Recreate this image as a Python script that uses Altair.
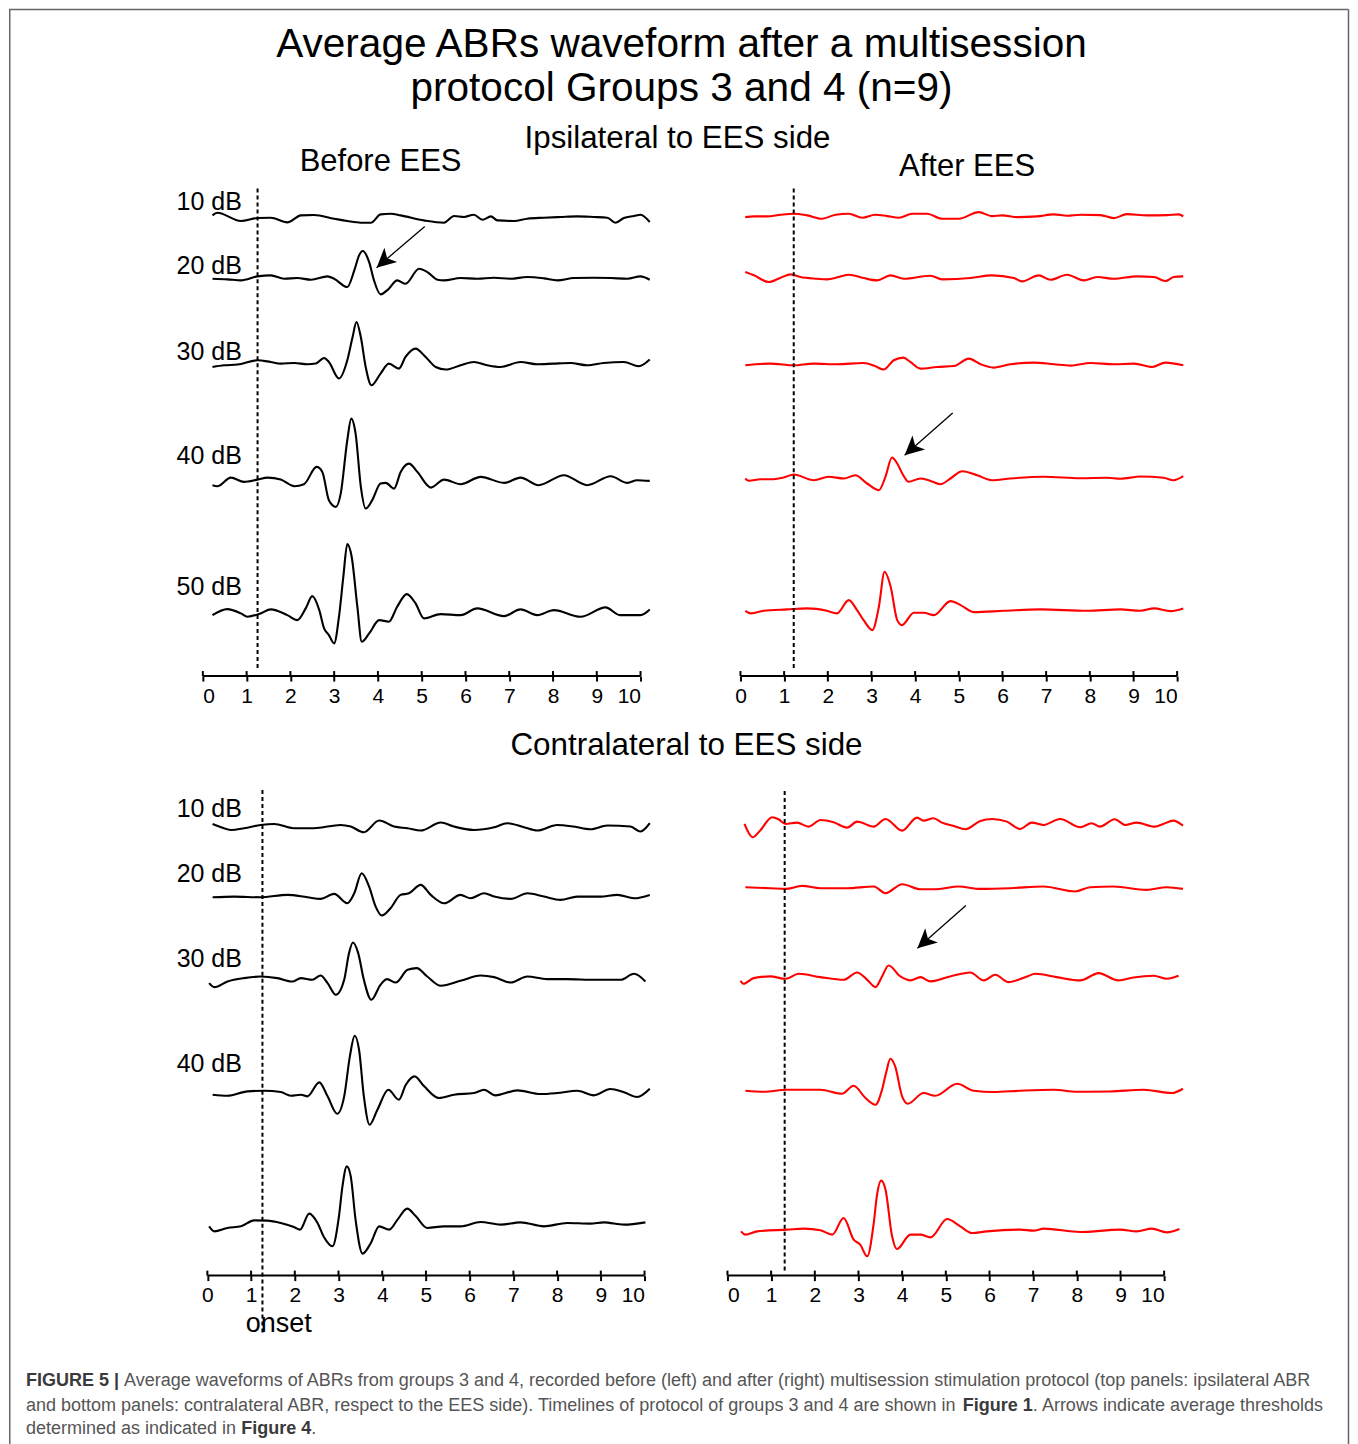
import altair as alt
import pandas as pd

FONT = "Liberation Sans"

# ---------------- waveform data (time in ms, amplitude in a.u.) ----------------
# Ipsilateral, before EES (black)
TL10_T = [0.22,0.33,0.87,1.25,1.55,1.93,2.24,2.54,3.0,3.30,3.61,3.84,4.06,4.29,4.52,5.05,5.51,5.74,5.97,6.19,6.39,6.58,6.73,7.11,7.41,7.79,8.17,8.55,8.93,9.24,9.43,9.62,9.85,10.0,10.21]
TL10_A = [3.3,6.0,-2.3,0.7,1.0,-3.7,3.3,3.7,0,-2.3,-4.0,-4.0,4.3,5.0,3.3,-1.7,-4.0,2.7,1.7,4.0,-1.0,2.3,-1.7,-2.3,0,1.0,1.7,2.3,1.7,1.0,-4.0,0.7,2.7,4.0,-3.3]
TL20_T = [0.22,0.56,0.87,1.25,1.55,1.86,2.16,2.47,2.85,3.0,3.30,3.46,3.57,3.65,3.80,3.91,4.06,4.25,4.44,4.63,4.94,5.13,5.36,5.51,5.89,6.27,6.65,7.03,7.41,7.79,8.10,8.48,8.93,9.32,9.70,10.0,10.21]
TL20_A = [-0.7,-1.3,-2.3,1.7,2.7,-0.7,0,-1.7,1.7,-0.7,-9.0,7.7,22.7,27,16,-2.3,-16.3,-10.7,-2.3,-5.7,9.3,6,-1.7,-2.3,0,-0.7,0.3,-0.7,1,-0.3,-2.3,0,0.3,0,-0.7,1.7,-1.7]
TL30_T = [0.22,0.49,0.79,1.25,1.55,1.78,2.09,2.39,2.58,2.77,2.88,3.11,3.30,3.42,3.51,3.61,3.72,3.85,4.06,4.25,4.48,4.63,4.86,5.09,5.32,5.55,5.89,6.19,6.50,6.80,7.26,7.64,8.02,8.40,8.78,9.16,9.62,9.96,10.21]
TL30_A = [-1.7,0,0.7,5,3.3,1.7,2.3,1,1.7,7.3,3.3,-13.3,5,28,43.3,28,-1.7,-20,-8.3,1.7,-3.3,8.3,16.7,8.3,-1.7,-4.3,0,3.3,0,-1.7,3.3,1,1.7,2.3,0,2.3,3.3,-1,5.7]
TL40_T = [0.22,0.33,0.64,0.94,1.25,1.48,1.78,2.09,2.31,2.60,2.73,2.88,3.04,3.15,3.30,3.39,3.49,3.61,3.72,3.87,4.06,4.18,4.37,4.52,4.71,4.90,5.21,5.51,5.89,6.35,6.88,7.26,7.67,8.25,8.78,9.32,9.70,9.92,10.21]
TL40_A = [-3.3,-4.3,4.3,0,2.3,4.3,2.3,-4.3,-2.3,15,10,-18.3,-25,-11.7,41.7,63.3,48.3,-5,-26.7,-18.3,-1.7,-1,-6.7,10,18.3,10,-5.7,2.3,-2.3,5,-1,4.3,-3.3,6.7,-3.3,5.7,-1,1.7,1]
TL50_T = [0.22,0.56,0.87,1.02,1.32,1.55,1.93,2.16,2.35,2.50,2.66,2.77,2.88,3.0,3.11,3.21,3.30,3.40,3.53,3.63,3.80,4.03,4.25,4.44,4.66,4.86,5.05,5.43,5.89,6.27,6.88,7.26,7.64,8.02,8.63,9.20,9.53,10.0,10.21]
TL50_A = [-1.7,4.3,0,-3.3,0,4,-1.7,-6.7,5,17.3,3.3,-15,-21.7,-30,-3.3,36.7,69.3,56.7,6.7,-28.3,-20,-6.7,-8.3,6.7,19.3,10,-5,-0.7,-1.7,5,-2.7,4,-1.7,3.3,-3.3,6,-1.7,-1.7,4]

# Ipsilateral, after EES (red)
TR10_T = [0.11,0.31,0.61,0.92,1.22,1.53,1.87,2.18,2.48,2.79,3.09,3.36,3.63,3.93,4.27,4.62,5.0,5.46,5.76,5.99,6.34,6.79,7.18,7.48,7.79,8.24,8.55,8.85,9.31,9.77,10.04,10.14]
TR10_A = [-1.7,-1,-1,0.7,1.7,0,-3.3,0.7,1.7,-2.3,0.7,-0.7,-2.3,1.7,1.7,-3.3,-3.3,3.3,-0.7,0,-1.7,-1,1,-0.3,0.7,0.3,-2.7,1.3,0,0.3,1,-1]
TR20_T = [0.11,0.31,0.65,0.92,1.15,1.37,1.76,1.98,2.25,2.48,2.82,3.13,3.44,3.74,4.35,4.62,5.27,5.76,6.26,6.45,6.83,7.10,7.48,7.86,8.17,8.55,9.08,9.47,9.73,9.92,10.14]
TR20_A = [5,1.7,-5,-0.7,2.7,0,-1.7,-2.3,0,2.3,-1,-3.3,1.7,-1.7,1.3,-2.3,-1,1.7,-1,-4.3,1.7,-2.7,2.3,-3.3,0,-1.7,0.7,0,-4,0,0.7]
TR30_T = [0.11,0.69,1.22,1.68,2.21,2.82,3.09,3.28,3.51,3.73,3.89,4.12,4.50,4.89,5.23,5.50,5.80,6.18,6.72,7.18,7.56,8.02,8.55,9.01,9.43,9.73,10.14]
TR30_A = [-1,0.7,-1,0.7,0,1.3,-2,-5.3,4,6.7,2.3,-4.3,-2.7,-1.7,5.7,0,-3.3,0,1.7,0,-1.3,1.3,0,0.7,-2.7,1.7,-1]
TR40_T = [0.11,0.19,0.46,0.76,0.99,1.22,1.68,2.02,2.37,2.63,2.90,3.17,3.32,3.47,3.59,3.74,3.85,4.12,4.31,4.58,4.81,5.08,5.42,5.76,6.18,6.95,7.79,8.40,8.70,9.16,9.69,9.92,10.14]
TR40_A = [0,-2.3,-0.7,-0.7,1,4,-1.7,1.7,0,3.3,-5,-11.7,1.7,21,15,2.3,-3.3,0,-1.7,-5.7,0,7.3,3.3,-1.7,0,1.7,0.3,0.7,-0.3,2,0.7,-1.7,2.3]
TR50_T = [0.11,0.24,0.53,1.07,1.53,1.98,2.21,2.48,2.67,2.82,3.02,3.17,3.30,3.44,3.59,3.70,3.97,4.20,4.43,4.81,5.04,5.34,6.03,6.87,7.94,8.70,9.16,9.47,9.85,10.14]
TR50_A = [-0.7,-3.3,-0.7,0.7,1.7,-0.7,-3.3,10,0,-10,-20,3.3,38.3,23.3,-10,-15,-2.7,-2.7,-5,9,5,-2,-0.7,0.7,-0.7,0.7,-0.7,1.7,-1,1.7]

# Contralateral, before EES (black)
BL10_T = [0.12,0.27,0.54,0.84,1.22,1.53,1.98,2.44,3.05,3.28,3.58,3.93,4.27,4.58,4.88,5.34,5.64,6.10,6.56,6.86,7.24,7.55,8.00,8.38,8.76,9.15,9.68,9.91,10.12]
BL10_A = [3.3,0.7,-2.7,-1,2.3,3.3,-1,-1,2.3,0.7,-5,6.7,0.7,-1,-3.3,4.7,0.7,-2.7,0,4,0,-3.3,2.3,0.7,-2,1.7,0.7,-4.3,4]
BL20_T = [0.12,0.61,1.22,1.83,2.29,2.59,2.90,3.20,3.36,3.53,3.70,3.85,3.99,4.19,4.42,4.61,4.88,5.11,5.42,5.79,6.02,6.33,6.56,6.94,7.32,7.70,8.08,8.46,8.99,9.38,9.76,10.12]
BL20_A = [-0.7,0,-0.7,1.7,-0.7,-2.3,2.7,-6.7,3.3,23.3,10,-10,-19,-11.7,1.7,3.3,11.7,1.7,-6.7,1.7,-1.7,3.3,0,-2.3,3.3,0,-3.3,0,0,1.7,-1.7,1.7]
BL30_T = [0.04,0.16,0.46,0.84,1.22,1.60,1.94,2.14,2.40,2.59,2.75,2.94,3.13,3.24,3.33,3.45,3.58,3.75,3.96,4.11,4.31,4.58,4.79,5.03,5.34,5.79,6.25,6.56,6.94,7.32,7.77,8.23,8.84,9.45,9.76,10.02]
BL30_A = [-4.3,-8.3,-2.7,0.7,2.3,0.7,-2.7,0.7,-1,3.3,-4.3,-16,-1,25.7,36.3,25.7,-1,-21,-6,-0.3,-3.7,9,10.7,2.3,-7,-2,3.3,1.7,-3.7,2.3,-0.3,-0.3,-1,-1,5,-2.7]
BL40_T = [0.12,0.46,0.92,1.30,1.68,1.91,2.14,2.29,2.56,2.75,2.97,3.13,3.26,3.37,3.47,3.58,3.71,3.89,4.14,4.38,4.54,4.74,4.96,5.30,5.64,6.10,6.33,6.59,7.09,7.62,8.00,8.46,8.84,9.22,9.53,9.83,10.12]
BL40_A = [-1.7,-2.7,1.7,2.3,1,-2.7,-1.7,-3.3,10.7,-3.3,-20.7,-3.3,36.7,57.3,43.3,-3.3,-31.7,-16.7,3.3,-6.7,8.3,16.7,6.7,-5,-1.7,0,3.3,-2.3,2.7,-1,0,2.3,-2.3,4,0.7,-4,4.3]
BL50_T = [0.04,0.16,0.46,0.77,1.07,1.37,1.68,1.98,2.12,2.33,2.52,2.67,2.86,3.01,3.09,3.19,3.28,3.39,3.55,3.74,3.93,4.16,4.35,4.57,4.77,5.03,5.41,5.79,6.25,6.71,7.16,7.70,8.23,8.76,9.07,9.53,10.02]
BL50_A = [-1.7,-6.7,-3.3,-1.7,4.3,4,1.7,-2.3,-5,11,1.7,-12.7,-21.7,8.3,38.3,58.3,48.3,5,-29,-18.3,-1.7,-5,5,16,8.3,-3.3,-1.7,-1.7,2.7,0,2.3,-1.7,1.7,1,2.3,0,2.3]

# Contralateral, after EES (red)
BR10_T = [0.39,0.49,0.58,0.76,1.02,1.17,1.33,1.59,1.86,2.13,2.43,2.74,2.97,3.35,3.62,4.00,4.34,4.49,4.72,4.91,5.18,5.45,5.79,6.06,6.40,6.70,6.97,7.24,7.62,8.08,8.34,8.53,8.87,9.11,9.37,9.79,9.98,10.21,10.43]
BR10_A = [0,-9.3,-13.3,-6,6.7,4.7,0,1.3,-2.7,4,1.7,-3.7,2.3,-2.7,5,-6.7,6.3,3.3,5.7,1.3,-2,-5.3,3,5,2.3,-5,1.3,-1,5,-3.3,0.7,-2.7,4.7,-1,1.3,-2.7,0,3.3,-1.7]
BR20_T = [0.41,0.98,1.33,1.71,2.13,2.74,3.35,3.62,4.00,4.42,4.80,5.29,5.79,6.48,7.24,7.96,8.31,8.84,9.60,10.06,10.43]
BR20_A = [1,0,-0.7,2.3,0,0,1.7,-5,4,-1,-1,1.7,-0.7,0,1.7,-3.3,1,1.7,-1.7,1,-0.7]
BR30_T = [0.30,0.37,0.60,0.98,1.33,1.63,2.13,2.66,2.97,3.20,3.39,3.54,3.69,3.96,4.19,4.42,4.65,5.10,5.56,5.87,6.13,6.44,6.86,7.05,7.54,8.08,8.50,8.95,9.30,9.76,10.06,10.33]
BR30_A = [-2.7,-5.7,0,1.7,-0.7,4.3,1,-1.7,5.7,-1.7,-9,1.7,12.7,1.7,-2.3,1,-3.3,1.7,5.7,-2.3,3.3,-4,1.7,4.3,1,-2.3,5,-2.3,0.7,2.3,-0.7,2.3]
BR40_T = [0.41,0.83,1.37,2.13,2.62,2.89,3.16,3.39,3.54,3.64,3.73,3.84,4.00,4.13,4.49,4.76,5.26,5.64,6.09,6.70,7.47,8.00,8.76,9.53,10.18,10.43]
BR40_A = [0,-1,1,1,-3,5,-7.3,-14,1,19.3,32,24.3,-5.7,-13,-2.3,-5,7,0,-1.3,0,1,-1,-0.7,1,-2.3,2]
BR50_T = [0.31,0.41,0.68,1.37,1.75,2.13,2.40,2.66,2.89,3.04,3.20,3.35,3.42,3.52,3.62,3.77,3.88,4.19,4.42,4.65,5.03,5.33,5.60,5.94,6.70,7.01,7.24,8.08,8.99,9.37,9.72,10.06,10.35]
BR50_A = [-1,-4.3,-1,0.7,1.7,0,-4.3,12.3,-9.3,-14.3,-26,7.3,34,49.7,40.7,-6,-18.7,-4.3,-4.3,-7,11.3,4,-2.7,-1,0.7,-0.3,1.7,-1.7,0.7,-1,1.7,-2,1.3]

LEVELS = ["10 dB", "20 dB", "30 dB", "40 dB", "50 dB"]
TICKS = list(range(11))
ONSET = {"TL": 1.25, "TR": 1.22, "BL": 1.26, "BR": 1.31}

TITLE_LINES = ["Average ABRs waveform after a multisession", "protocol Groups 3 and 4 (n=9)"]
ROW_TITLES = ["Ipsilateral to EES side", "Contralateral to EES side"]
COL_TITLES = ["Before EES", "After EES"]

# caption: one list of (text, bold) runs per line
CAPTION_LINES = [
    [("FIGURE 5 | ", True),
     ("Average waveforms of ABRs from groups 3 and 4, recorded before (left) and after (right) multisession stimulation protocol (top panels: ipsilateral ABR", False)],
    [("and bottom panels: contralateral ABR, respect to the EES side). Timelines of protocol of groups 3 and 4 are shown in ", False),
     ("Figure 1", True),
     (". Arrows indicate average thresholds", False)],
    [("determined as indicated in ", False),
     ("Figure 4", True),
     (".", False)],
]

# Arial / Liberation Sans advance widths (1/1000 em), used to chain the caption runs
_REG = {" ": 278, "(": 333, ")": 333, ",": 278, ".": 278, ":": 278, "|": 260, "-": 333}
_REG.update({c: 556 for c in "0123456789"})
_REG.update(dict(zip("ABCDEFGHIJKLMNOPQRSTUVWXYZ",
                     [667, 667, 722, 722, 667, 611, 778, 722, 278, 500, 667, 556, 833, 722, 778, 667, 778, 722,
                      667, 611, 722, 667, 944, 667, 667, 611])))
_REG.update(dict(zip("abcdefghijklmnopqrstuvwxyz",
                     [556, 556, 500, 556, 556, 278, 556, 556, 222, 222, 500, 222, 833, 556, 556, 556, 556, 333,
                      500, 278, 556, 500, 722, 500, 500, 500])))
_BOLD = dict(_REG)
_BOLD.update({"|": 280})
_BOLD.update(dict(zip("ABCDEFGHIJKLMNOPQRSTUVWXYZ",
                      [722, 722, 722, 722, 667, 611, 778, 722, 278, 556, 722, 611, 833, 722, 778, 667, 778, 722,
                       667, 611, 722, 667, 944, 667, 667, 611])))
_BOLD.update(dict(zip("abcdefghijklmnopqrstuvwxyz",
                      [556, 611, 556, 611, 556, 333, 611, 611, 278, 278, 556, 278, 889, 611, 611, 611, 611, 389,
                       556, 333, 611, 556, 778, 556, 556, 500])))


def em_width(s, bold):
    table = _BOLD if bold else _REG
    return sum(table.get(c, 556) for c in s) / 1000.0


# ---------------- layout (pixels) ----------------
W_FRAME = 1340.5
H_ROW = 496
GAP_ROW = 104
RED = "#ff0000"
ARROW = "M0,0 L0.55,1.1 L0,0.82 L-0.55,1.1 Z"
CAP_LEFT = 17
CAP_LINE1_W = 1288

# cell width and x-domain start of each panel (aligns the time axis inside the grid cell)
CELL = {"TL": (438, 0.0), "BL": (442, -0.103), "TR": (450, -0.2975), "BR": (437, 0.0)}

# vertical stacking offsets of traces within each panel (a.u. above the time axis)
OFFS = {
    "TL": [457.7, 398.3, 311.0, 194.3, 62.7],
    "TR": [461.0, 399.3, 312.0, 197.7, 66.0],
    "BL": [448.7, 379.3, 297.0, 182.7, 51.0],
    "BR": [452.0, 387.7, 297.7, 185.0, 45.3],
}
TRACES = {
    "TL": [(TL10_T, TL10_A), (TL20_T, TL20_A), (TL30_T, TL30_A), (TL40_T, TL40_A), (TL50_T, TL50_A)],
    "TR": [(TR10_T, TR10_A), (TR20_T, TR20_A), (TR30_T, TR30_A), (TR40_T, TR40_A), (TR50_T, TR50_A)],
    "BL": [(BL10_T, BL10_A), (BL20_T, BL20_A), (BL30_T, BL30_A), (BL40_T, BL40_A), (BL50_T, BL50_A)],
    "BR": [(BR10_T, BR10_A), (BR20_T, BR20_A), (BR30_T, BR30_A), (BR40_T, BR40_A), (BR50_T, BR50_A)],
}
DASH = {"TL": (8, 491), "TR": (8, 490), "BL": (-57, 488), "BR": (5, 487)}
LABELS = {
    "TL": (0.89, [466, 402.7, 316, 212, 81], LEVELS),
    "BL": (0.79, [458.7, 394.3, 309.3, 203.3], LEVELS[:4]),
}
ARROWS = {
    "TL": (5.07, 450.0, 3.97, 408.7),
    "TR": (4.86, 263.3, 3.76, 221.0),
    "BR": (5.46, 370.3, 4.35, 327.7),
}


def panel(key, color, extra_texts):
    width, x0 = CELL[key]
    rows = []
    for lvl, (T, A), off in zip(LEVELS, TRACES[key], OFFS[key]):
        for t, a in zip(T, A):
            rows.append({"t": t, "y": off + a, "level": lvl})
    df = pd.DataFrame(rows)
    xs = alt.Scale(domain=[x0, 10], nice=False, zero=False)
    ys = alt.Scale(domain=[0, H_ROW], nice=False, zero=False)
    xaxis = alt.Axis(values=TICKS, format="d", title=None, grid=False, domain=False,
                     tickColor="black", tickWidth=2, tickSize=5, labelFontSize=21, labelFont=FONT,
                     labelColor="black", labelPadding=4, labelAngle=0)
    X = lambda f="t": alt.X(f"{f}:Q", scale=xs)
    Y = lambda f="y": alt.Y(f"{f}:Q", scale=ys, axis=None)

    lines = alt.Chart(df).mark_line(interpolate="monotone", strokeWidth=2.1, color=color).encode(
        x=alt.X("t:Q", scale=xs, axis=xaxis), y=Y(), detail="level:N")

    axis_df = pd.DataFrame({"t": [TICKS[0]], "t2": [TICKS[-1]], "y": [0]})
    axis_line = alt.Chart(axis_df).mark_rule(color="black", strokeWidth=2).encode(
        x=X(), x2="t2:Q", y=Y())

    tick_df = pd.DataFrame({"t": TICKS, "y": [0] * 11, "y2": [5] * 11})
    ticks_up = alt.Chart(tick_df).mark_rule(color="black", strokeWidth=2).encode(
        x=X(), y=Y(), y2="y2:Q")

    lo, hi = DASH[key]
    dash_df = pd.DataFrame({"t": [ONSET[key]], "y": [lo], "y2": [hi]})
    dash = alt.Chart(dash_df).mark_rule(color="black", strokeWidth=2, strokeDash=[4, 3]).encode(
        x=X(), y=Y(), y2="y2:Q")

    layers = [lines, axis_line, dash, ticks_up]

    if key in LABELS:
        lx, ly, lt = LABELS[key]
        ldf = pd.DataFrame({"t": [lx] * len(lt), "y": ly, "txt": lt})
        layers.append(alt.Chart(ldf).mark_text(align="right", baseline="alphabetic", fontSize=25,
                                               font=FONT, color="black").encode(x=X(), y=Y(), text="txt:N"))

    if key in ARROWS:
        t1, y1, t2, y2 = ARROWS[key]
        adf = pd.DataFrame({"t": [t1], "y": [y1], "t2": [t2], "y2": [y2]})
        layers.append(alt.Chart(adf).mark_rule(color="black", strokeWidth=1.3).encode(
            x=X(), y=Y(), x2="t2:Q", y2="y2:Q"))
        hdf = pd.DataFrame({"t": [t2], "y": [y2]})
        layers.append(alt.Chart(hdf).mark_point(shape=ARROW, filled=True, size=1200, angle=228,
                                                color="black", opacity=1, strokeWidth=0).encode(x=X(), y=Y()))

    for (tx, ty, txt, size, align) in extra_texts:
        tdf = pd.DataFrame({"t": [tx], "y": [ty], "txt": [txt]})
        layers.append(alt.Chart(tdf).mark_text(align=align, baseline="alphabetic", fontSize=size,
                                               font=FONT, color="black").encode(x=X(), y=Y(), text="txt:N"))

    return alt.layer(*layers).properties(width=width, height=H_ROW)


one = pd.DataFrame({"s": [0]})


def blank():
    return alt.Chart(one).mark_text(text=" ", opacity=0, align="left", baseline="top", fontSize=1).encode(
        x=alt.value(1), y=alt.value(1))


def txt(s, x, y, size, align="center", bold=False, color="black"):
    return alt.Chart(one).mark_text(text=s, x=x, y=y, fontSize=size, font=FONT, align=align,
                                    baseline="alphabetic", color=color,
                                    fontWeight="bold" if bold else "normal")


def rule(x, y, x2=None, y2=None):
    enc = {"x": alt.value(x), "y": alt.value(y)}
    if x2 is not None:
        enc["x2"] = alt.value(x2)
    if y2 is not None:
        enc["y2"] = alt.value(y2)
    return alt.Chart(one).mark_rule(color="#666666", strokeWidth=1.5).encode(**enc)


# left cell of the top row: carries the figure frame, the titles and the row headings
# (its origin is the top-left corner of the ipsilateral row)
top_left = alt.layer(
    blank(),
    rule(0, -171, x2=W_FRAME),
    rule(0.75, -171, y2=1290),
    rule(W_FRAME, -171, y2=1290),
    txt(TITLE_LINES[0], 673, -124, 40.6),
    txt(TITLE_LINES[1], 673, -79, 40.6),
    txt(ROW_TITLES[0], 669, -32, 31.3),
    txt(ROW_TITLES[1], 678, 575, 31.4),
).properties(width=194, height=H_ROW)

# left cell of the bottom row: carries the caption, runs chained with the font metrics
cap_size = CAP_LINE1_W / sum(em_width(s, b) for s, b in CAPTION_LINES[0])
CAP_Y = [606, 631, 655]
cap_layers = [blank()]
for line, runs in enumerate(CAPTION_LINES):
    x = CAP_LEFT
    for s, bold in runs:
        cap_layers.append(txt(s, x, CAP_Y[line], cap_size, align="left", bold=bold,
                              color="#3a3a3a" if bold else "#555555"))
        x += em_width(s, bold) * cap_size
bottom_left = alt.layer(*cap_layers).properties(width=194, height=H_ROW)

TL = panel("TL", "black", [(4.06, 505, COL_TITLES[0], 31, "center")])
TR = panel("TR", RED, [(5.19, 500, COL_TITLES[1], 31, "center")])
BL = panel("BL", "black", [(0.88, -56, "onset", 27, "left")])
BR = panel("BR", RED, [])

gap1 = blank().properties(width=83, height=H_ROW)
gap2 = blank().properties(width=83, height=H_ROW)

chart = alt.concat(
    top_left, TL, gap1, TR,
    bottom_left, BL, gap2, BR,
    columns=4, spacing={"row": GAP_ROW, "column": 0}, bounds="flush", align="each",
).properties(
    padding={"left": 0, "top": 0, "right": 0, "bottom": 0},
    autosize=alt.AutoSizeParams(type="pad"),
).configure_view(strokeWidth=0)

chart.save("out.html", embed_options={"renderer": "svg", "actions": False})
